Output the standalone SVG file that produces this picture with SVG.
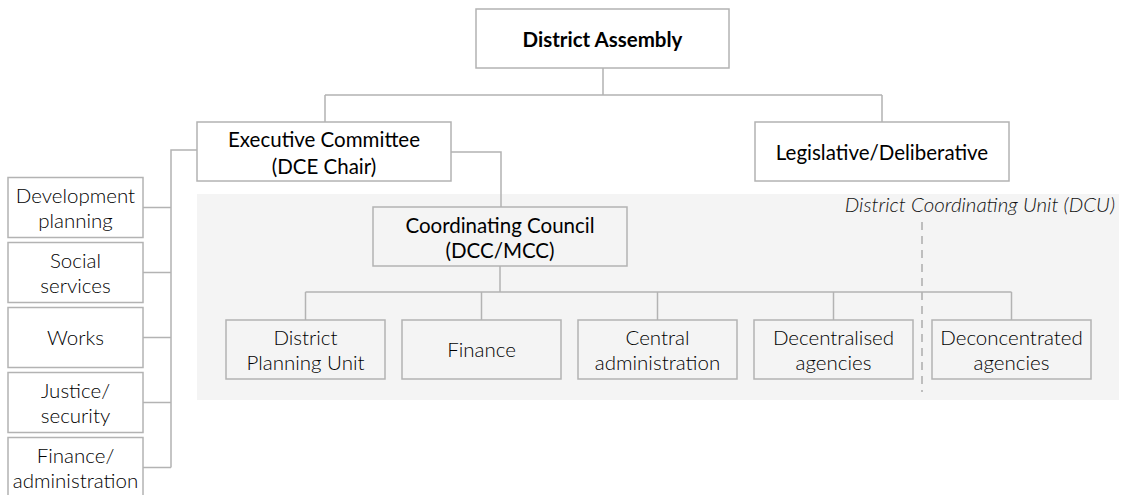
<svg xmlns="http://www.w3.org/2000/svg" width="1128" height="495" viewBox="0 0 1128 495">
  <style>
    .box { fill: #ffffff; stroke: #b3b3b3; stroke-width: 1.5; }
    .inbox { fill: #f4f4f4; stroke: #b3b3b3; stroke-width: 1.5; }
    .link { fill: none; stroke: #b3b3b3; stroke-width: 1.5; }
    .divider { fill: none; stroke: #9a9a9a; stroke-width: 1.2; stroke-dasharray: 8 6; }
    text { font-family: Lato, "Liberation Sans", sans-serif; text-anchor: middle; }
    .head { font-size: 20.5px; font-weight: 700; fill: #000000; }
    .main { font-size: 20.5px; font-weight: 400; fill: #000000; }
    .unit { font-size: 20.5px; font-weight: 300; fill: #000000; }
    .zone { font-size: 20.5px; font-weight: 300; font-style: italic; fill: #111111; text-anchor: end; }
  </style>

  <!-- shaded area of the coordinating unit -->
  <g id="dcu-area">
    <rect x="197" y="194" width="922" height="206" fill="#f4f4f4"/>
    <text class="zone" x="1115" y="212">District Coordinating Unit (DCU)</text>
    <line class="divider" x1="922" y1="222" x2="922" y2="392"/>
  </g>

  <!-- connectors -->
  <g id="connectors">
    <path class="link" d="M603 68 V95 M325 95 H882 M325 95 V122 M882 95 V122"/>
    <path class="link" d="M451 152 H501 V207"/>
    <path class="link" d="M197 150 H171 V467.5 M143 207.5 H171 M143 272.5 H171 M143 337.5 H171 M143 402.5 H171 M143 467.5 H171"/>
    <path class="link" d="M500 266 V292 M305.5 292 H1011.5 M305.5 292 V320 M481.5 292 V320 M657.5 292 V320 M833.5 292 V320 M1011.5 292 V320"/>
  </g>

  <!-- top level -->
  <g id="district-assembly">
    <rect class="box" x="476" y="9" width="253" height="59"/>
    <text class="head" x="602.5" y="46.5">District Assembly</text>
  </g>
  <g id="executive-committee">
    <rect class="box" x="197" y="122" width="254" height="59"/>
    <text class="main" x="324" y="147">Executive Committee</text>
    <text class="main" x="324" y="174">(DCE Chair)</text>
  </g>
  <g id="legislative">
    <rect class="box" x="755" y="122" width="254" height="59"/>
    <text class="main" x="882" y="159.5">Legislative/Deliberative</text>
  </g>
  <g id="coordinating-council">
    <rect class="inbox" x="373" y="207" width="254" height="59"/>
    <text class="main" x="500" y="233">Coordinating Council</text>
    <text class="main" x="500" y="258">(DCC/MCC)</text>
  </g>

  <!-- executive sub-committees -->
  <g id="development-planning">
    <rect class="box" x="8" y="177.5" width="135" height="60"/>
    <text class="unit" x="75.5" y="203">Development</text>
    <text class="unit" x="75.5" y="228">planning</text>
  </g>
  <g id="social-services">
    <rect class="box" x="8" y="242.5" width="135" height="60"/>
    <text class="unit" x="75.5" y="268">Social</text>
    <text class="unit" x="75.5" y="293">services</text>
  </g>
  <g id="works">
    <rect class="box" x="8" y="307.5" width="135" height="60"/>
    <text class="unit" x="75.5" y="344.5">Works</text>
  </g>
  <g id="justice-security">
    <rect class="box" x="8" y="372.5" width="135" height="60"/>
    <text class="unit" x="75.5" y="398">Justice/</text>
    <text class="unit" x="75.5" y="423">security</text>
  </g>
  <g id="finance-administration">
    <rect class="box" x="8" y="437.5" width="135" height="60"/>
    <text class="unit" x="75.5" y="463">Finance/</text>
    <text class="unit" x="75.5" y="488">administration</text>
  </g>

  <!-- coordinating council departments -->
  <g id="district-planning-unit">
    <rect class="inbox" x="226" y="320" width="159" height="59"/>
    <text class="unit" x="305.5" y="345">District</text>
    <text class="unit" x="305.5" y="370">Planning Unit</text>
  </g>
  <g id="finance">
    <rect class="inbox" x="402" y="320" width="159" height="59"/>
    <text class="unit" x="481.5" y="357">Finance</text>
  </g>
  <g id="central-administration">
    <rect class="inbox" x="578" y="320" width="159" height="59"/>
    <text class="unit" x="657.5" y="345">Central</text>
    <text class="unit" x="657.5" y="370">administration</text>
  </g>
  <g id="decentralised-agencies">
    <rect class="inbox" x="754" y="320" width="159" height="59"/>
    <text class="unit" x="833.5" y="345">Decentralised</text>
    <text class="unit" x="833.5" y="370">agencies</text>
  </g>
  <g id="deconcentrated-agencies">
    <rect class="inbox" x="932" y="320" width="159" height="59"/>
    <text class="unit" x="1011.5" y="345">Deconcentrated</text>
    <text class="unit" x="1011.5" y="370">agencies</text>
  </g>
</svg>
